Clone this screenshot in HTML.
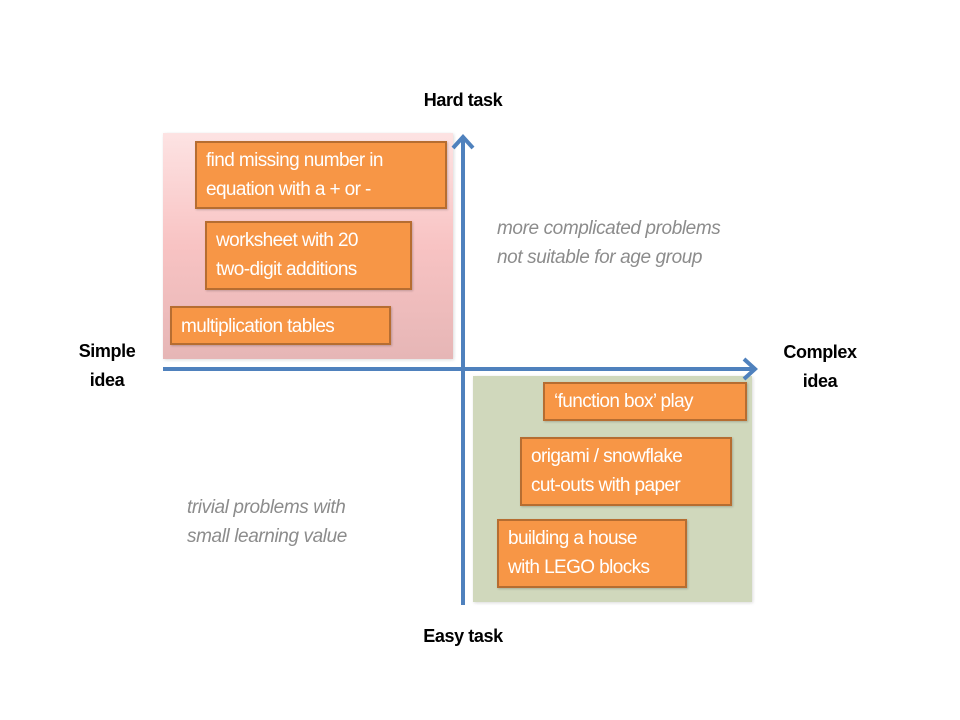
<!DOCTYPE html>
<html><head><meta charset="utf-8"><style>
body{margin:0;width:960px;height:720px;background:#fff;position:relative;overflow:hidden;font-family:"Liberation Sans",sans-serif}
.a{position:absolute}
.o{position:absolute;box-sizing:border-box;background:#f79646;border:2px solid #b66d31;color:#fff;font-size:19px;line-height:29px;padding:3px 0 0 9px;letter-spacing:-0.6px;white-space:nowrap;box-shadow:1px 1px 2px rgba(0,0,0,.2)}
.l{position:absolute;font-weight:bold;font-size:18px;text-align:center;line-height:29px;letter-spacing:-0.4px}
.g{position:absolute;color:#8c8c8c;font-style:italic;font-size:19px;line-height:29px;letter-spacing:-0.4px;white-space:nowrap}
</style></head><body>
<div class="a" style="left:163px;top:133px;width:290px;height:226px;background:linear-gradient(#fde3e3,#f8c3c3 50%,#e6b6b6);box-shadow:1px 1px 3px rgba(0,0,0,.15)"></div>
<div class="a" style="left:473px;top:376px;width:279px;height:226px;background:#d0d8bc;box-shadow:1px 1px 3px rgba(0,0,0,.15)"></div>
<svg class="a" style="left:0;top:0" width="960" height="720">
<line x1="463" y1="605" x2="463" y2="136" stroke="#4f81bd" stroke-width="4"/>
<polyline points="453,148 463,137 473,148" fill="none" stroke="#4f81bd" stroke-width="4"/>
<line x1="163" y1="369" x2="756" y2="369" stroke="#4f81bd" stroke-width="4"/>
<polyline points="744,359 755,369 744,379" fill="none" stroke="#4f81bd" stroke-width="4"/>
</svg>
<div class="o" style="left:195px;top:141px;width:252px;height:68px">find missing number in<br>equation with a + or -</div>
<div class="o" style="left:205px;top:221px;width:207px;height:69px">worksheet with 20<br>two-digit additions</div>
<div class="o" style="left:170px;top:306px;width:221px;height:39px;padding-top:4px">multiplication tables</div>
<div class="o" style="left:543px;top:382px;width:204px;height:39px;padding-top:3px">‘function box’ play</div>
<div class="o" style="left:520px;top:437px;width:212px;height:69px">origami / snowflake<br>cut-outs with paper</div>
<div class="o" style="left:497px;top:519px;width:190px;height:69px">building a house<br>with LEGO blocks</div>
<div class="l" style="left:363px;top:86px;width:200px">Hard task</div>
<div class="l" style="left:363px;top:622px;width:200px">Easy task</div>
<div class="l" style="left:57px;top:337px;width:100px">Simple<br>idea</div>
<div class="l" style="left:770px;top:338px;width:100px">Complex<br>idea</div>
<div class="g" style="left:497px;top:214px">more complicated problems<br>not suitable for age group</div>
<div class="g" style="left:187px;top:493px">trivial problems with<br>small learning value</div>
</body></html>
